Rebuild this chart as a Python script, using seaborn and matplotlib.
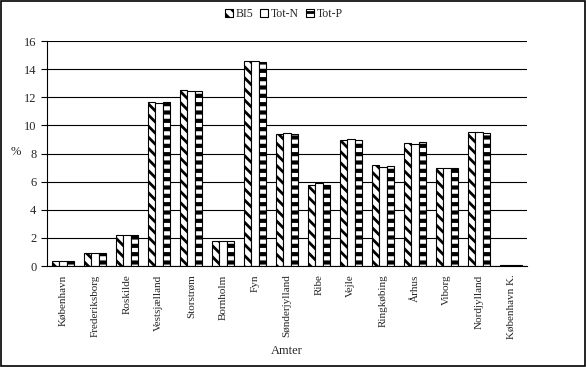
import matplotlib
matplotlib.use("Agg")
import matplotlib.pyplot as plt
import seaborn as sns
import pandas as pd
from matplotlib.patches import Patch

categories = ["København", "Frederiksborg", "Roskilde", "Vestsjælland", "Storstrøm",
              "Bornholm", "Fyn", "Sønderjylland", "Ribe", "Vejle", "Ringkøbing",
              "Århus", "Viborg", "Nordjylland", "København K."]
series = ["BI5", "Tot-N", "Tot-P"]
bi5 = [0.35, 0.9, 2.2, 11.64, 12.52, 1.8, 14.58, 9.39, 5.76, 8.96, 7.18, 8.72, 6.94, 9.5, 0.05]
totn = [0.35, 0.9, 2.2, 11.57, 12.42, 1.8, 14.58, 9.46, 5.88, 9.03, 7.06, 8.65, 7.0, 9.5, 0.05]
totp = [0.35, 0.9, 2.2, 11.64, 12.45, 1.8, 14.51, 9.39, 5.8, 8.96, 7.11, 8.8, 7.0, 9.44, 0.05]

df = pd.DataFrame({
    "Amt": categories * 3,
    "Serie": [series[0]] * 15 + [series[1]] * 15 + [series[2]] * 15,
    "v": bi5 + totn + totp,
})

sns.set_style("white")
plt.rcParams["font.family"] = ["Liberation Serif", "DejaVu Serif"]
plt.rcParams["hatch.linewidth"] = 2.0

fig = plt.figure(figsize=(5.86, 3.67), dpi=100)
ax = fig.add_axes([0.080, 0.275, 0.819, 0.613])

sns.barplot(data=df, x="Amt", y="v", hue="Serie", order=categories, hue_order=series,
            width=0.7, gap=0, palette=["white", "white", "white"], edgecolor="black",
            linewidth=0.8, ax=ax, legend=False, saturation=1)

hatches = ["\\\\\\", "", "--"]
hlw = [2.0, 1.0, 3.0]
for cont, h, lw in zip(ax.containers, hatches, hlw):
    for bar in cont:
        bar.set_hatch(h)
        if hasattr(bar, "set_hatch_linewidth"):
            bar.set_hatch_linewidth(lw)

ax.set_ylim(0, 16)
ax.set_yticks(range(0, 17, 2))
ax.set_xlim(-0.5, len(categories) - 0.5)
ax.yaxis.grid(True, color="black", linewidth=0.8)
ax.set_axisbelow(True)
for s in ["top", "right"]:
    ax.spines[s].set_visible(False)
for s in ["left", "bottom"]:
    ax.spines[s].set_color("black")
    ax.spines[s].set_linewidth(0.8)

ax.set_xticks(range(len(categories)))
ax.set_xticklabels(categories, rotation=90, fontsize=8)
ax.tick_params(axis="x", length=0, pad=6)
ax.set_xticks([i - 0.5 for i in range(len(categories) + 1)], minor=True)
ax.tick_params(axis="x", which="minor", length=4, color="black", direction="inout", width=0.8)
ax.tick_params(axis="y", length=4, color="black", direction="out", labelsize=9, width=0.8, left=True)

ax.set_xlabel("Amter", fontsize=9, labelpad=4)
ax.set_ylabel("%", fontsize=9, rotation=0)
ax.yaxis.set_label_coords(-0.065, 0.48)

handles = []
for h, s, lw in zip(hatches, series, hlw):
    p = Patch(facecolor="white", edgecolor="black", hatch=h, label=s, linewidth=0.8)
    handles.append(p)
leg = fig.legend(handles=handles, loc="center", bbox_to_anchor=(0.484, 0.962), ncol=3, frameon=False,
                 fontsize=8.5, handlelength=0.7, handleheight=0.7, handletextpad=0.2, columnspacing=0.6)

fig.patches.append(plt.Rectangle((0.001, 0.002), 0.997, 0.996, transform=fig.transFigure,
                                 fill=False, edgecolor="black", linewidth=1.2))

fig.savefig("out.png", dpi=100)
